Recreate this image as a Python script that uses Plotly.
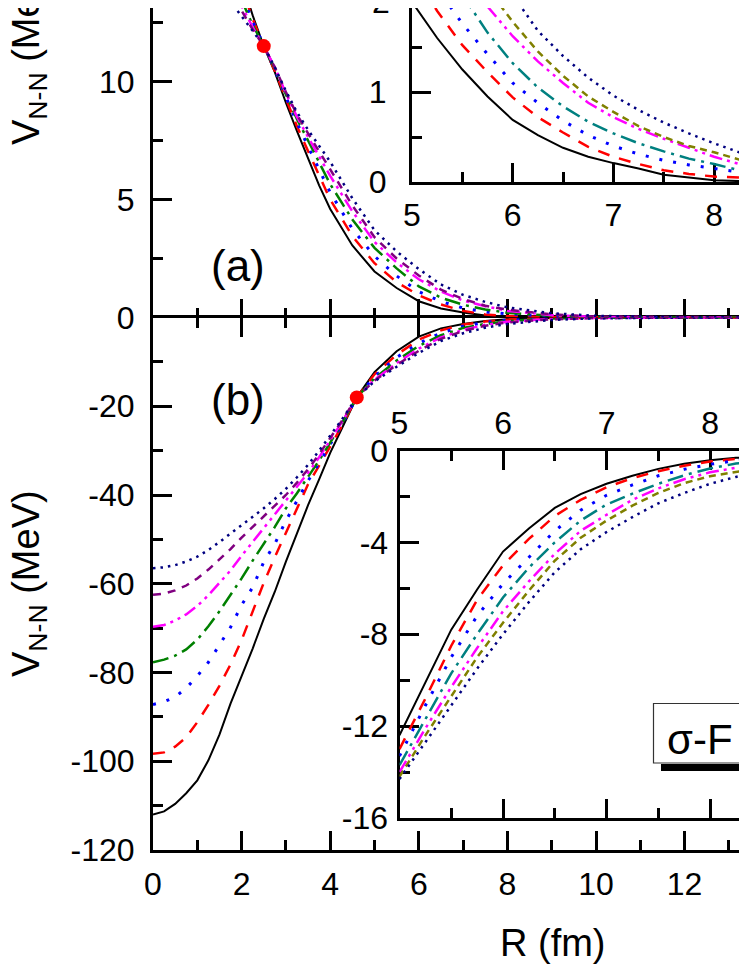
import plotly.graph_objects as go

# The page is photographed at 747x967; the browser adds an 8px body margin,
# so the figure is made 8px smaller and all page positions are offset by 8px.
PAGE_W, PAGE_H = 747, 967
OFF = 8
W, H = PAGE_W - OFF, PAGE_H - OFF
FONT = "Liberation Sans, Arial, sans-serif"

# ── data: panel (a), repulsive part (R in fm, V in MeV) ──────────────
r_a = [1.5, 1.75, 2.0, 2.25, 2.5, 2.75, 3.0, 3.25, 3.5, 3.75, 4.0, 4.5, 5.0,
       5.5, 6.0, 6.5, 7.0, 7.5, 8.0, 9.0, 10.0, 12.0, 14.0]
va_black = [19.0, 16.5, 14.3, 12.8, 11.5, 10.4, 9.1, 7.9, 6.75, 5.6, 4.6, 3.05, 1.95,
            1.25, 0.69, 0.38, 0.21, 0.08, 0.02, 0.0, 0.0, 0.0, 0.0]
va_red = [18.0, 16.0, 14.0, 12.65, 11.5, 10.45, 9.25, 8.1, 7.05, 6.0, 5.0, 3.45, 2.3,
          1.5, 0.94, 0.55, 0.28, 0.13, 0.06, 0.01, 0.0, 0.0, 0.0]
va_blue = [17.0, 15.4, 13.7, 12.55, 11.5, 10.5, 9.35, 8.25, 7.25, 6.25, 5.3, 3.75, 2.6,
           1.76, 1.1, 0.68, 0.4, 0.24, 0.15, 0.05, 0.01, 0.0, 0.0]
va_green = [16.0, 14.9, 13.45, 12.4, 11.5, 10.55, 9.45, 8.4, 7.5, 6.55, 5.65, 4.15, 2.95,
            2.08, 1.32, 0.84, 0.54, 0.34, 0.2, 0.07, 0.02, 0.0, 0.0]
va_magenta = [15.2, 14.4, 13.2, 12.3, 11.5, 10.6, 9.5, 8.5, 7.65, 6.8, 6.0, 4.5, 3.2,
              2.33, 1.62, 1.1, 0.72, 0.48, 0.28, 0.1, 0.03, 0.0, 0.0]
va_purple = [14.6, 13.9, 13.0, 12.2, 11.5, 10.6, 9.55, 8.6, 7.8, 7.05, 6.3, 4.75, 3.4,
             2.5, 1.78, 1.18, 0.78, 0.5, 0.33, 0.13, 0.04, 0.0, 0.0]
va_navy = [14.0, 13.4, 12.8, 12.15, 11.5, 10.6, 9.6, 8.7, 7.95, 7.3, 6.6, 5.05, 3.7,
           2.8, 2.05, 1.4, 0.96, 0.66, 0.43, 0.18, 0.07, 0.01, 0.0]

# ── data: panel (b), attractive part ─────────────────────────────────
r_b = [0.0, 0.25, 0.5, 0.75, 1.0, 1.25, 1.5, 1.75, 2.0, 2.25, 2.5, 2.75, 3.0,
       3.25, 3.5, 3.75, 4.0, 4.25, 4.6, 5.0, 5.5, 6.0, 6.5, 7.0, 7.5, 8.0,
       9.0, 10.0, 12.0, 14.0]
vb_black = [-112.0, -111.3, -109.6, -107.2, -104.3, -99.8, -94.0, -87.0, -80.8, -74.6,
            -67.9, -61.8, -55.0, -48.5, -42.3, -36.5, -30.5, -25.3, -18.0, -12.3,
            -7.6, -4.3, -2.45, -1.45, -0.8, -0.42, -0.1, -0.02, 0.0, 0.0]
vb_red = [-98.3, -98.0, -96.7, -94.6, -91.2, -87.3, -83.0, -78.2, -72.7, -66.4,
          -59.8, -54.0, -48.5, -42.8, -37.6, -33.4, -29.2, -24.7, -18.0, -12.8,
          -8.4, -5.0, -2.9, -1.6, -0.9, -0.48, -0.12, -0.03, 0.0, 0.0]
vb_blue = [-87.2, -86.6, -85.5, -83.5, -80.8, -77.7, -73.8, -69.8, -64.8, -60.8,
           -55.1, -51.0, -45.8, -41.2, -36.8, -32.8, -28.7, -24.4, -18.0, -13.3,
           -9.0, -5.8, -3.5, -1.95, -1.1, -0.6, -0.18, -0.05, 0.0, 0.0]
vb_green = [-77.7, -77.1, -76.2, -74.8, -72.6, -69.6, -66.2, -62.6, -58.8, -54.8,
            -51.0, -47.2, -43.0, -39.6, -35.9, -32.2, -28.2, -24.1, -18.0, -13.7,
            -9.7, -6.4, -4.0, -2.35, -1.45, -0.8, -0.25, -0.07, 0.0, 0.0]
vb_magenta = [-69.7, -69.3, -68.3, -66.9, -65.0, -62.6, -59.8, -57.0, -53.7, -50.6,
              -47.4, -44.2, -41.2, -38.2, -35.0, -31.5, -27.7, -23.8, -18.0, -14.0,
              -10.3, -7.0, -4.5, -2.8, -1.65, -0.95, -0.3, -0.09, 0.0, 0.0]
vb_purple = [-62.5, -62.2, -61.5, -60.4, -58.8, -56.8, -54.5, -52.2, -49.6, -47.2,
             -44.8, -42.4, -40.0, -37.2, -34.2, -30.8, -27.2, -23.5, -18.0, -14.2,
             -10.7, -7.5, -4.8, -3.05, -1.85, -1.12, -0.4, -0.12, -0.01, 0.0]
vb_navy = [-56.5, -56.3, -55.8, -55.0, -53.9, -52.4, -50.6, -48.7, -46.9, -45.0,
           -43.0, -40.9, -38.6, -36.0, -33.2, -30.0, -26.6, -23.2, -18.0, -14.4,
           -11.1, -8.0, -5.3, -3.55, -2.3, -1.45, -0.55, -0.18, -0.02, 0.0]

# crossing points marked in red
cross_r = [2.5, 4.6]
cross_v = [11.5, -18.0]

# ── data: insets (tail region 5-8.5 fm) ──────────────────────────────
r_in = [5.0, 5.25, 5.5, 5.75, 6.0, 6.25, 6.5, 6.75, 7.0, 7.25, 7.5, 7.75, 8.0, 8.25, 8.5]
ia_black = [2.0, 1.6, 1.25, 0.95, 0.69, 0.52, 0.38, 0.28, 0.21, 0.15, 0.08, 0.05, 0.02, 0.01, 0.0]
ia_red = [2.35, 1.9, 1.52, 1.22, 0.94, 0.72, 0.55, 0.39, 0.28, 0.2, 0.13, 0.09, 0.06, 0.05, 0.04]
ia_blue = [2.6, 2.15, 1.76, 1.42, 1.1, 0.88, 0.68, 0.52, 0.4, 0.31, 0.24, 0.19, 0.15, 0.11, 0.09]
ia_teal = [2.95, 2.5, 2.08, 1.66, 1.32, 1.05, 0.84, 0.67, 0.54, 0.43, 0.34, 0.26, 0.2, 0.13, 0.09]
ia_magenta = [3.2, 2.75, 2.33, 1.95, 1.62, 1.34, 1.1, 0.88, 0.72, 0.59, 0.48, 0.38, 0.28, 0.2, 0.15]
ia_olive = [3.4, 2.95, 2.5, 2.15, 1.78, 1.45, 1.18, 0.95, 0.78, 0.62, 0.5, 0.4, 0.33, 0.25, 0.2]
ia_navy = [3.7, 3.25, 2.8, 2.4, 2.08, 1.68, 1.4, 1.16, 0.96, 0.8, 0.66, 0.54, 0.43, 0.33, 0.26]

ib_black = [-12.4, -10.1, -7.8, -6.05, -4.4, -3.4, -2.5, -1.9, -1.45, -1.1, -0.8, -0.58, -0.42, -0.32, -0.24]
ib_red = [-13.0, -10.8, -8.5, -6.5, -5.0, -3.85, -2.85, -2.15, -1.6, -1.2, -0.9, -0.66, -0.48, -0.35, -0.26]
ib_blue = [-13.3, -11.1, -9.0, -7.2, -5.8, -4.65, -3.5, -2.6, -1.95, -1.5, -1.1, -0.82, -0.6, -0.44, -0.32]
ib_teal = [-13.7, -11.7, -9.7, -8.0, -6.4, -5.1, -4.0, -3.05, -2.35, -1.88, -1.45, -1.08, -0.78, -0.57, -0.42]
ib_magenta = [-14.0, -12.1, -10.3, -8.6, -7.0, -5.7, -4.5, -3.5, -2.8, -2.15, -1.65, -1.25, -0.95, -0.75, -0.6]
ib_olive = [-14.2, -12.4, -10.7, -9.0, -7.5, -6.1, -4.8, -3.8, -3.05, -2.4, -1.85, -1.42, -1.12, -0.92, -0.75]
ib_navy = [-14.3, -12.7, -11.1, -9.5, -8.0, -6.6, -5.3, -4.3, -3.55, -2.9, -2.3, -1.85, -1.45, -1.15, -0.92]

# tick labels (plain hyphen as in the original)
yb_ticks = [-120, -100, -80, -60, -40, -20]
yb_text = ["-120", "-100", "-80", "-60", "-40", "-20"]
yin_ticks = [0, -4, -8, -12, -16]
yin_text = ["0", "-4", "-8", "-12", "-16"]

# line styles (colour, dash, width)
ST_BLACK = ("#000000", "solid", 2)
ST_RED = ("#FF0000", "12px,10px", 2.5)
ST_BLUE = ("#0000FF", "3px,11px", 3)
ST_GREEN = ("#008000", "16px,6px,3px,6px", 2.5)
ST_TEAL = ("#008080", "16px,6px,3px,6px", 2.5)
ST_MAGENTA = ("#FF00FF", "13px,5px,3px,5px,3px,5px", 2.5)
ST_PURPLE = ("#800080", "8px,7px", 2.5)
ST_OLIVE = ("#808000", "7px,5px", 2.5)
ST_NAVY = ("#000080", "2.5px,5px", 2.5)


def px_x(p):
    """page pixel (from left) -> paper x"""
    return (p - OFF) / W


def px_y(p):
    """page pixel (from top) -> paper y"""
    return (H - (p - OFF)) / H


fig = go.Figure()


def add_set(r, curves, xa, ya):
    for v, (col, dash, w) in curves:
        fig.add_trace(go.Scatter(
            x=r, y=v, mode="lines", xaxis=xa, yaxis=ya,
            line=dict(color=col, dash=dash, width=w),
            showlegend=False, hoverinfo="skip"
        ))


add_set(r_a, [(va_black, ST_BLACK), (va_red, ST_RED), (va_blue, ST_BLUE),
              (va_green, ST_GREEN), (va_magenta, ST_MAGENTA),
              (va_purple, ST_PURPLE), (va_navy, ST_NAVY)], "x2", "y2")
add_set(r_b, [(vb_black, ST_BLACK), (vb_red, ST_RED), (vb_blue, ST_BLUE),
              (vb_green, ST_GREEN), (vb_magenta, ST_MAGENTA),
              (vb_purple, ST_PURPLE), (vb_navy, ST_NAVY)], "x", "y")
add_set(r_in, [(ia_black, ST_BLACK), (ia_red, ST_RED), (ia_blue, ST_BLUE),
               (ia_teal, ST_TEAL), (ia_magenta, ST_MAGENTA),
               (ia_olive, ST_OLIVE), (ia_navy, ST_NAVY)], "x3", "y3")
add_set(r_in, [(ib_black, ST_BLACK), (ib_red, ST_RED), (ib_blue, ST_BLUE),
               (ib_teal, ST_TEAL), (ib_magenta, ST_MAGENTA),
               (ib_olive, ST_OLIVE), (ib_navy, ST_NAVY)], "x4", "y4")

# red crossing dots
fig.add_trace(go.Scatter(x=cross_r[:1], y=cross_v[:1], xaxis="x2", yaxis="y2",
                         mode="markers", marker=dict(size=14, color="#FF0000"),
                         showlegend=False, hoverinfo="skip"))
fig.add_trace(go.Scatter(x=cross_r[1:], y=cross_v[1:], xaxis="x", yaxis="y",
                         mode="markers", marker=dict(size=14, color="#FF0000"),
                         showlegend=False, hoverinfo="skip"))

tickfont = dict(family=FONT, size=32, color="black")
common = dict(showline=True, linewidth=3, linecolor="black", ticks="inside",
              tickwidth=3, ticklen=19, tickcolor="black", showgrid=False,
              zeroline=False, tickfont=tickfont, layer="below traces",
              automargin=False)


def minor(d):
    return dict(ticks="inside", ticklen=10, tickwidth=3, tickcolor="black",
                dtick=d, showgrid=False)


y_split = px_y(317.5)
x_left = px_x(153)
x_hi = (PAGE_W - 153) / 44.3          # right crop of the main R axis
ya_hi = (317.5 - OFF) / 23.6          # top crop of panel (a)
yia_hi = (182 - OFF) / 90.0           # top crop of inset (a)

fig.update_layout(
    template="none",
    width=W, height=H, autosize=False,
    margin=dict(l=0, r=0, t=0, b=0, pad=0),
    paper_bgcolor="white", plot_bgcolor="white",
    font=dict(family=FONT, color="black"),
    showlegend=False,
    # main panel (b)
    xaxis=dict(common, domain=[x_left, 1.0], range=[0, x_hi], anchor="y",
               dtick=2, tick0=0, minor=minor(1), mirror="ticks",
               ticklabelstandoff=4),
    yaxis=dict(common, domain=[px_y(850), y_split], range=[-120, 0], anchor="x",
               tickmode="array", tickvals=yb_ticks, ticktext=yb_text,
               minor=dict(minor(10), tick0=0), ticklabelstandoff=9),
    # main panel (a)
    xaxis2=dict(common, domain=[x_left, 1.0], range=[0, x_hi], anchor="y2",
                dtick=2, tick0=0, minor=minor(1), showticklabels=False,
                showline=False),
    yaxis2=dict(common, domain=[y_split, 1.0], range=[0, ya_hi], anchor="x2",
                dtick=5, tick0=0, minor=dict(minor(2.5), tick0=0),
                ticklabelstandoff=9),
    # inset in (a)
    xaxis3=dict(common, domain=[px_x(412), 1.0], range=[5, 8.327], anchor="y3",
                dtick=1, tick0=5, minor=dict(minor(0.5), tick0=5),
                ticklabelstandoff=3),
    yaxis3=dict(common, domain=[px_y(182), 1.0], range=[0, yia_hi], anchor="x3",
                dtick=1, tick0=0, minor=dict(minor(0.5), tick0=0),
                ticklabelstandoff=16),
    # inset in (b)
    xaxis4=dict(common, domain=[px_x(399.5), 1.0], range=[5, 8.357], anchor="y4",
                side="top", mirror="ticks", dtick=1, tick0=5,
                minor=dict(minor(0.5), tick0=5), ticklabelstandoff=1),
    yaxis4=dict(common, domain=[px_y(818), px_y(450.5)], range=[-16, 0],
                anchor="x4", tickmode="array", tickvals=yin_ticks,
                ticktext=yin_text, minor=dict(minor(2), tick0=0),
                ticklabelstandoff=2),
)

title_font = dict(family=FONT, size=38, color="black")
ann = [
    dict(text="V<sub>N-N</sub> (MeV)", x=px_x(29), y=px_y(52), textangle=-90,
         font=title_font),
    dict(text="V<sub>N-N</sub> (MeV)", x=px_x(29), y=px_y(584), textangle=-90,
         font=title_font),
    dict(text="R (fm)", x=px_x(553), y=px_y(943), font=title_font),
    dict(text="(a)", x=px_x(238), y=px_y(265), font=dict(family=FONT, size=44)),
    dict(text="(b)", x=px_x(238), y=px_y(400), font=dict(family=FONT, size=44)),
    dict(text="σ-F", x=px_x(665), y=px_y(739), xanchor="left",
         font=dict(family=FONT, size=42)),
    # inset (a) top tick label, mostly cropped by the top edge
    dict(text="2", x=px_x(392), y=px_y(2), xanchor="right", font=tickfont),
]
for a in ann:
    a.setdefault("xanchor", "center")
    fig.add_annotation(xref="paper", yref="paper", yanchor="middle",
                       showarrow=False, **a)

# label box with drop shadow (cropped on the right)
fig.add_shape(type="rect", xref="paper", yref="paper",
              x0=px_x(661), x1=px_x(790), y0=px_y(771), y1=px_y(764),
              fillcolor="black", line=dict(width=0), layer="above")
fig.add_shape(type="rect", xref="paper", yref="paper",
              x0=px_x(653.5), x1=px_x(790), y0=px_y(763), y1=px_y(703.5),
              line=dict(color="#333333", width=1.2), layer="above")

fig.write_html("out.html")
